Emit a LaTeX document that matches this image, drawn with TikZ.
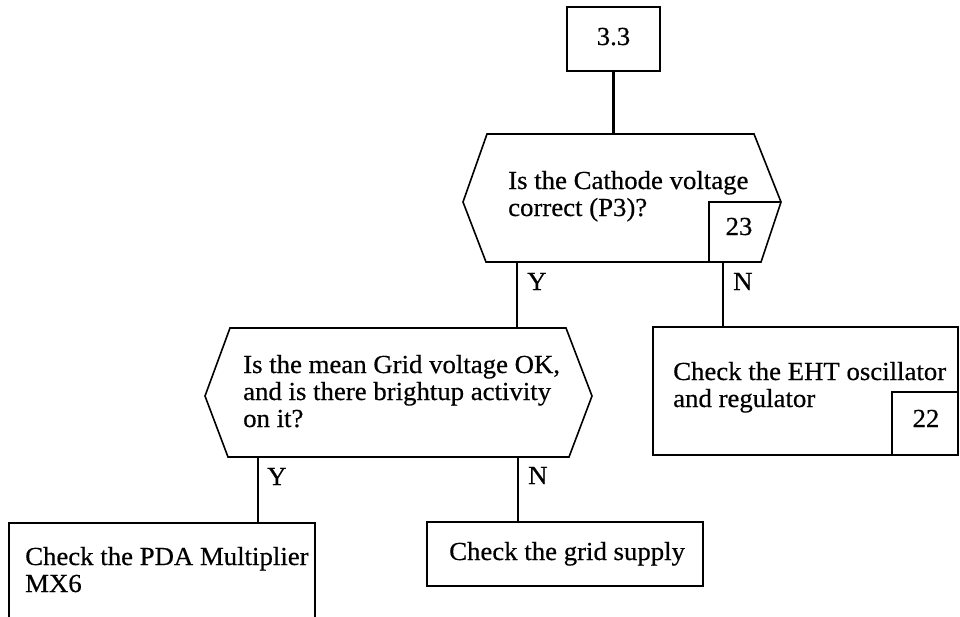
\documentclass[tikz,border=0pt]{standalone}
\usepackage{fontspec}
\setmainfont[FakeStretch=1.03,FakeBold=0.5]{Liberation Serif}
\tikzset{
  lw/.style={line width=1.6pt},
  boxn/.style={draw, line width=1.6pt, inner sep=0pt, rectangle},
  conn/.style={line width=2.4pt},
  tx/.style={inner sep=0pt, anchor=base west, font=\fontsize{26}{27}\selectfont},
  txb/.style={tx, text width=#1, align=left, execute at begin node={\spaceskip=0pt\xspaceskip=0pt}},
  num/.style={inner sep=0pt, anchor=base, font=\fontsize{26}{27}\selectfont},
}
\begin{document}
\begin{tikzpicture}[x=1pt,y=-1pt]
\useasboundingbox (0,0) rectangle (960,616);
\clip (0,0) rectangle (960,616);
% top box
\node[boxn, minimum width=93pt, minimum height=64pt] (b33) at (613.5,39) {};
\node[num] (t33) at (613.5,45) {3.3};
% hexagon 1
\coordinate (h1tl) at (487,134);
\coordinate (h1tr) at (754,134);
\coordinate (h1r) at (781,202);
\coordinate (h1br) at (761,262);
\coordinate (h1bl) at (486,262);
\coordinate (h1l) at (463,202);
\draw[lw] (h1tl) -- (h1tr) -- (h1r) -- (h1br) -- (h1bl) -- (h1l) -- cycle;
\coordinate (b23) at (709,262);
\draw[lw] (b23) -- (b23 |- h1r) -- (h1r);
\node[num] (t23) at (739,235) {23};
\node[txb=260pt] (q1) at (508,189) {Is the Cathode voltage\\correct (P3)?};
\draw[conn] (b33.south) -- (b33.south |- h1tl);
% hexagon 2
\coordinate (h2tl) at (230,328);
\coordinate (h2tr) at (566,328);
\coordinate (h2r) at (592,396);
\coordinate (h2br) at (569,457);
\coordinate (h2bl) at (228,457);
\coordinate (h2l) at (205,396);
\draw[lw] (h2tl) -- (h2tr) -- (h2r) -- (h2br) -- (h2bl) -- (h2l) -- cycle;
\node[txb=340pt] (q2) at (243,373) {Is the mean Grid voltage OK,\\and is there brightup activity\\on it?};
% EHT box
\node[boxn, minimum width=305pt, minimum height=128pt] (eht) at (805.5,391) {};
\node[boxn, minimum width=66pt, minimum height=63pt] (b22) at (925,423.5) {};
\node[txb=290pt] (teht) at (673,380) {Check the EHT oscillator\\and regulator};
\node[num] (t22) at (926,427) {22};
% branches from hexagon 1
\coordinate (y1) at (517,262);
\coordinate (n1) at (723,262);
\draw[conn] (y1) -- (y1 |- h2tl);
\draw[conn] (n1) -- (n1 |- eht.north);
\node[tx] (ly1) at (527,290) {Y};
\node[tx] (ln1) at (733,290) {N};
% bottom boxes
\node[boxn, minimum width=306pt, minimum height=96pt] (pda) at (162,571) {};
\node[txb=300pt] (tpda) at (25,565) {Check the PDA Multiplier\\MX6};
\node[boxn, minimum width=276pt, minimum height=64pt] (grid) at (565,554) {};
\node[tx] (tgrid) at (449,560) {Check the grid supply};
% branches from hexagon 2
\coordinate (y2) at (258,457);
\coordinate (n2) at (518,457);
\draw[conn] (y2) -- (y2 |- pda.north);
\draw[conn] (n2) -- (n2 |- grid.north);
\node[tx] (ly2) at (267,485) {Y};
\node[tx] (ln2) at (528,484) {N};
\end{tikzpicture}
\end{document}
